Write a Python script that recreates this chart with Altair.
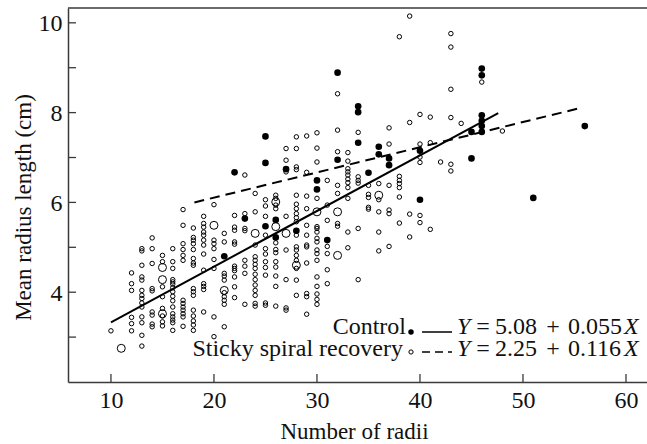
import altair as alt
import pandas as pd

# ---------------- data ----------------
# Sticky spiral recovery (small open circles): number of radii -> mean radius lengths
sticky_by_radii = {
    10: [3.14],
    12: [4.43, 4.19, 4.04, 3.44, 3.30, 3.14],
    13: [4.97, 4.92, 4.60, 4.34, 4.27, 4.04, 3.93, 3.86, 3.76, 3.67, 3.45, 3.32, 3.04, 2.80],
    14: [5.21, 4.97, 4.64, 4.08, 4.03, 3.56, 3.49, 3.29, 3.23],
    15: [4.82, 4.68, 4.12, 3.90, 3.64, 3.47, 3.34, 3.25],
    16: [4.97, 4.68, 4.53, 4.28, 4.23, 4.18, 4.10, 4.01, 3.91, 3.81, 3.67, 3.52, 3.45, 3.38, 3.32, 3.15],
    17: [5.84, 5.49, 5.08, 4.95, 4.82, 4.71, 3.82, 3.75, 3.67, 3.60, 3.52, 3.45, 3.24],
    18: [5.43, 5.22, 5.16, 5.08, 4.95, 4.75, 4.65, 4.60, 4.08, 4.01, 3.93, 3.60, 3.47, 3.36, 3.27, 3.15],
    19: [5.69, 5.53, 5.45, 5.34, 5.27, 5.16, 5.05, 4.85, 4.49, 4.19, 4.13, 4.06, 3.56],
    20: [5.95, 5.16, 5.08, 4.97, 4.73, 4.53, 3.45, 3.01],
    21: [5.31, 5.12, 4.42, 4.36, 4.27, 3.99, 3.90, 3.82, 3.73, 3.23],
    22: [5.71, 5.45, 5.38, 5.12, 5.07, 4.58, 4.53, 4.48, 4.34, 4.12, 3.88],
    23: [6.61, 5.75, 5.42, 5.37, 4.71, 4.58, 4.42, 3.73],
    24: [6.20, 5.79, 5.05, 4.79, 4.71, 4.62, 4.53, 4.40, 4.28, 4.16, 4.04, 3.93, 3.75, 3.69],
    25: [6.06, 5.92, 5.69, 5.27, 4.97, 4.85, 4.68, 4.55, 4.38, 3.76, 3.71],
    26: [6.16, 6.09, 5.94, 5.86, 5.10, 4.95, 4.88, 4.68, 4.56, 4.36, 4.13, 3.69],
    27: [7.20, 6.94, 6.68, 5.69, 4.94, 4.28, 3.65, 3.60],
    28: [7.46, 7.20, 6.79, 6.73, 6.16, 5.96, 5.86, 5.75, 5.66, 5.57, 5.27, 5.01, 4.94, 4.82,
         4.71, 4.53, 4.27, 3.93],
    29: [7.48, 6.67, 6.14, 5.86, 5.49, 5.27, 5.05, 5.01, 4.65, 3.97, 3.90, 3.51],
    30: [7.55, 7.21, 6.90, 6.09, 5.46, 5.42, 5.34, 5.20, 5.12, 4.94, 4.86, 4.71, 4.34, 4.13,
         3.96, 3.84, 3.73],
    31: [6.49, 5.94, 5.60, 5.02, 4.86, 4.50, 4.19],
    32: [8.42, 7.61, 7.13, 6.38, 6.20, 5.53, 5.47],
    33: [7.11, 6.92, 6.75, 6.68, 6.61, 6.52, 6.44, 6.33, 6.09, 5.34, 4.99],
    34: [7.56, 6.57, 6.49, 6.43, 5.42, 4.28],
    35: [6.38, 6.18, 6.11, 5.89, 5.85],
    36: [6.42, 6.06, 5.79, 5.34, 4.92],
    37: [7.66, 7.30, 6.38, 5.83, 5.75, 5.02],
    38: [9.69, 6.58, 6.49, 6.42, 6.33, 6.12, 5.54],
    39: [10.15, 7.78, 5.74, 5.23],
    40: [7.96, 7.30, 7.01, 6.89, 5.71, 5.55],
    41: [7.90, 7.33, 5.40],
    42: [6.90],
    43: [9.76, 9.46, 8.52, 7.89, 6.85, 6.70],
    44: [7.76],
    46: [8.68],
    48: [7.59],
}
# Larger open circles (overlapping sticky-spiral observations)
sticky_double_radii = [11, 15, 15, 15, 20, 21, 24, 26, 26, 27, 28, 30, 32, 32, 36]
sticky_double_length = [2.75, 4.55, 4.28, 3.52, 5.49, 4.04, 5.31, 6.01, 5.46, 5.31, 4.60, 5.79, 5.79, 4.82, 6.16]

# Control (filled circles)
control_radii = [21, 22, 23, 25, 25, 25, 26, 26, 27, 28, 30, 30, 31, 32, 32, 34, 34, 34,
                 35, 36, 36, 37, 37, 40, 40, 45, 45, 46, 46, 46, 46, 46, 46, 51, 56]
control_length = [4.80, 6.67, 5.64, 7.47, 6.88, 5.47, 5.61, 5.22, 6.74, 5.37, 6.49, 6.29,
                  5.16, 8.89, 6.95, 8.14, 8.01, 7.33, 6.66, 7.24, 7.07, 6.98, 6.83, 7.15,
                  6.06, 7.57, 6.98, 8.98, 8.83, 7.94, 7.82, 7.70, 7.57, 6.10, 7.70]

# Fitted lines as drawn (end points)
fit_solid_radii = [10.0, 47.6]
fit_solid_length = [3.33, 7.99]
fit_dashed_radii = [18.1, 55.7]
fit_dashed_length = [6.00, 8.11]

# Axis ticks
x_tick_values = [10, 20, 30, 40, 50, 60]
y_label_values = [4, 6, 8, 10]
y_tick_values = [3, 4, 5, 6, 7, 8, 9, 10]

# Legend texts
legend_labels = ["Control", "Sticky spiral recovery"]
legend_intercepts = ["5.08", "2.25"]
legend_slopes = ["0.055", "0.116"]

# ---------------- chart ----------------
W, H = 579, 374
FONT = "Liberation Serif"
INK = "#111111"
AXIS = "#3a3a3a"

xs = alt.Scale(domain=[5.83, 62.04], nice=False, zero=False)
ys = alt.Scale(domain=[2.0, 10.33], nice=False, zero=False)

sticky_df = pd.DataFrame(
    [(x, y) for x, vals in sticky_by_radii.items() for y in vals],
    columns=["radii", "length"],
)
double_df = pd.DataFrame({"radii": sticky_double_radii, "length": sticky_double_length})
control_df = pd.DataFrame({"radii": control_radii, "length": control_length})
solid_df = pd.DataFrame({"radii": fit_solid_radii, "length": fit_solid_length})
dashed_df = pd.DataFrame({"radii": fit_dashed_radii, "length": fit_dashed_length})
xt_df = pd.DataFrame({"radii": x_tick_values})
yt_df = pd.DataFrame({"length": y_tick_values})
one = pd.DataFrame({"k": [0]})

x_axis = alt.Axis(
    values=x_tick_values, title="Number of radii", grid=False, ticks=False,
    domainColor=AXIS, domainWidth=1.5, labelFont=FONT, labelFontSize=24, labelColor=INK,
    labelBaseline="alphabetic", labelPadding=25, labelFlush=False,
    titleFont=FONT, titleFontSize=23, titleFontWeight="normal", titleColor=INK,
    titleX=286, titleY=56, titleBaseline="alphabetic",
)
y_axis = alt.Axis(
    values=y_label_values, title="Mean radius length (cm)", grid=False, ticks=False,
    domainColor=AXIS, domainWidth=1.5, labelFont=FONT, labelFontSize=24, labelColor=INK,
    labelPadding=6, labelBaseline="middle", labelOffset=1, labelFlush=False,
    titleFont=FONT, titleFontSize=23, titleFontWeight="normal", titleColor=INK,
    titleX=-45, titleY=199, titleBaseline="middle",
)

def X():
    return alt.X("radii:Q", scale=xs, axis=x_axis)

def Y():
    return alt.Y("length:Q", scale=ys, axis=y_axis)

sticky = alt.Chart(sticky_df).mark_point(
    shape="circle", filled=False, stroke="black", strokeWidth=1, size=20, opacity=1
).encode(x=X(), y=Y())

doubles = alt.Chart(double_df).mark_point(
    shape="circle", filled=False, stroke="black", strokeWidth=1, size=64, opacity=1
).encode(x=X(), y=Y())

control = alt.Chart(control_df).mark_circle(color="black", size=44, opacity=1).encode(x=X(), y=Y())

solid = alt.Chart(solid_df).mark_line(color="black", strokeWidth=2).encode(x=X(), y=Y())
dashed = alt.Chart(dashed_df).mark_line(color="black", strokeWidth=2, strokeDash=[10, 6]).encode(
    x=X(), y=Y()
)

x_ticks = alt.Chart(xt_df).mark_rule(color=AXIS, strokeWidth=1.3).encode(
    x=X(), y=alt.value(H), y2=alt.value(H - 8)
)
y_ticks = alt.Chart(yt_df).mark_rule(color=AXIS, strokeWidth=1.3).encode(
    y=Y(), x=alt.value(0), x2=alt.value(8)
)
top_line = alt.Chart(one).mark_rule(color=AXIS, strokeWidth=1.5).encode(
    x=alt.value(0), x2=alt.value(W), y=alt.value(0)
)

layers = [sticky, doubles, control, solid, dashed, x_ticks, y_ticks, top_line]

# ---- legend (inside the plot, lower right) ----
rows = [
    dict(label_x=338, base_y=326, mark_y=324, filled=True, dash=None),
    dict(label_x=335, base_y=348, mark_y=344, filled=False, dash=[8, 5]),
]

def txt(text, x, y, align="left", italic=False):
    return alt.Chart(one).mark_text(
        font=FONT, fontSize=24, color=INK, align=align, baseline="alphabetic",
        fontStyle="italic" if italic else "normal",
    ).encode(x=alt.value(x), y=alt.value(y), text=alt.value(text))

for i, r in enumerate(rows):
    by = r["base_y"]
    layers.append(txt(legend_labels[i], r["label_x"], by, align="right"))
    if r["filled"]:
        layers.append(alt.Chart(one).mark_circle(color="black", size=30, opacity=1).encode(
            x=alt.value(343), y=alt.value(r["mark_y"])))
        layers.append(alt.Chart(one).mark_rule(color="black", strokeWidth=1.5).encode(
            x=alt.value(354), x2=alt.value(384), y=alt.value(r["mark_y"])))
    else:
        layers.append(alt.Chart(one).mark_point(shape="circle", filled=False, stroke="black",
                                                strokeWidth=1, size=18, opacity=1).encode(
            x=alt.value(343), y=alt.value(r["mark_y"])))
        layers.append(alt.Chart(one).mark_rule(color="black", strokeWidth=1.5,
                                               strokeDash=r["dash"]).encode(
            x=alt.value(354), x2=alt.value(384), y=alt.value(r["mark_y"])))
    layers.append(txt("Y", 389, by, italic=True))
    layers.append(txt("=", 415, by, align="center"))
    layers.append(txt(legend_intercepts[i], 427, by))
    layers.append(txt("+", 485, by, align="center"))
    layers.append(txt(legend_slopes[i], 500, by))
    layers.append(txt("X", 556, by, italic=True))

chart = (
    alt.layer(*layers)
    .properties(
        width=W, height=H,
        padding={"left": 68, "top": 8, "right": 0, "bottom": 62},
        autosize=alt.AutoSizeParams(type="none"),
        background="white",
    )
    .configure_view(stroke=None)
)

chart.save("out.html", embed_options={"renderer": "svg", "actions": False})
